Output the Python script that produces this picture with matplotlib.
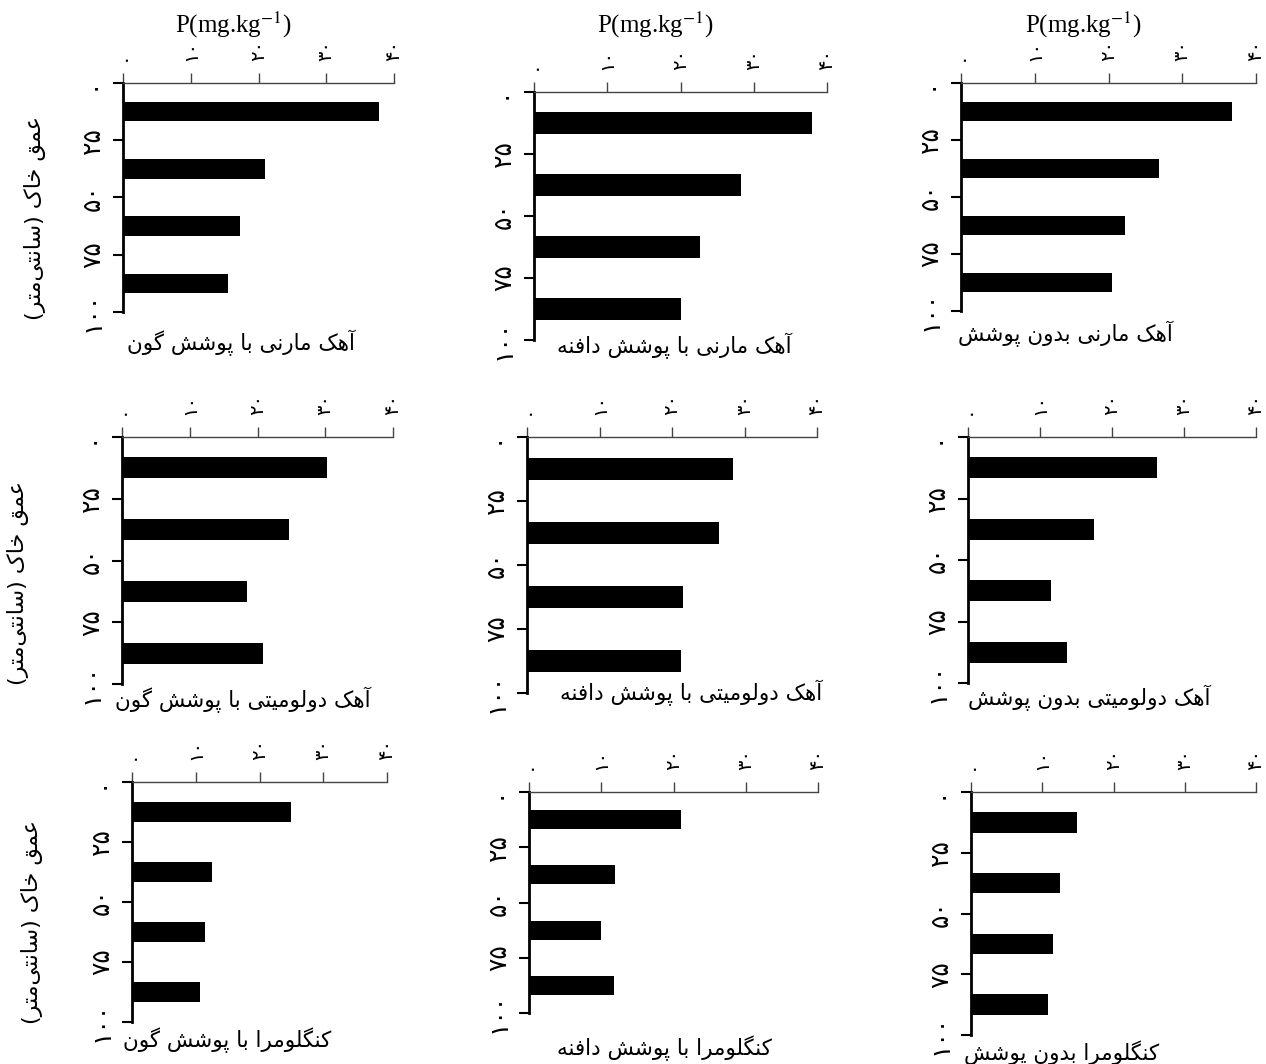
import matplotlib
matplotlib.use("Agg")
import matplotlib.pyplot as plt

plt.rcParams['font.family'] = ['DejaVu Sans']
plt.rcParams['mathtext.fontset'] = 'stix'

# depth classes (cm) and P scale
depth_ticks = [0, 25, 50, 75, 100]
depth_mid = [12.5, 37.5, 62.5, 87.5]
p_ticks = [0, 10, 20, 30, 40]

# P (mg/kg) per depth class
marl_gon = [37.8, 21.0, 17.3, 15.5]
marl_daphne = [38.0, 28.2, 22.6, 20.1]
marl_bare = [36.8, 26.8, 22.2, 20.5]
dolo_gon = [30.2, 24.7, 18.5, 20.8]
dolo_daphne = [28.4, 26.5, 21.5, 21.3]
dolo_bare = [26.2, 17.5, 11.5, 13.7]
cong_gon = [24.9, 12.5, 11.5, 10.7]
cong_daphne = [21.1, 11.9, 10.0, 11.8]
cong_bare = [14.9, 12.5, 11.5, 10.8]

captions = [
    ["آهک مارنی با پوشش گون", "آهک مارنی با پوشش دافنه", "آهک مارنی بدون پوشش"],
    ["آهک دولومیتی با پوشش گون", "آهک دولومیتی با پوشش دافنه", "آهک دولومیتی بدون پوشش"],
    ["کنگلومرا با پوشش گون", "کنگلومرا با پوشش دافنه", "کنگلومرا بدون پوشش"],
]
values = [
    [marl_gon, marl_daphne, marl_bare],
    [dolo_gon, dolo_daphne, dolo_bare],
    [cong_gon, cong_daphne, cong_bare],
]
ylabel_text = "عمق خاک (سانتی\u200cمتر)"
xlabel_text = r"P(mg.kg$^{-1}$)"

# isolated, final, initial, medial presentation forms
FORMS = {
    'ا': ('\uFE8D', '\uFE8E', None, None),
    'آ': ('\uFE81', '\uFE82', None, None),
    'د': ('\uFEA9', '\uFEAA', None, None),
    'ر': ('\uFEAD', '\uFEAE', None, None),
    'و': ('\uFEED', '\uFEEE', None, None),
    'ب': ('\uFE8F', '\uFE90', '\uFE91', '\uFE92'),
    'پ': ('\uFB56', '\uFB57', '\uFB58', '\uFB59'),
    'ت': ('\uFE95', '\uFE96', '\uFE97', '\uFE98'),
    'خ': ('\uFEA5', '\uFEA6', '\uFEA7', '\uFEA8'),
    'س': ('\uFEB1', '\uFEB2', '\uFEB3', '\uFEB4'),
    'ش': ('\uFEB5', '\uFEB6', '\uFEB7', '\uFEB8'),
    'ع': ('\uFEC9', '\uFECA', '\uFECB', '\uFECC'),
    'ف': ('\uFED1', '\uFED2', '\uFED3', '\uFED4'),
    'ق': ('\uFED5', '\uFED6', '\uFED7', '\uFED8'),
    'ل': ('\uFEDD', '\uFEDE', '\uFEDF', '\uFEE0'),
    'م': ('\uFEE1', '\uFEE2', '\uFEE3', '\uFEE4'),
    'ن': ('\uFEE5', '\uFEE6', '\uFEE7', '\uFEE8'),
    'ه': ('\uFEE9', '\uFEEA', '\uFEEB', '\uFEEC'),
    'ک': ('\uFB8E', '\uFB8F', '\uFB90', '\uFB91'),
    'گ': ('\uFB92', '\uFB93', '\uFB94', '\uFB95'),
    'ی': ('\uFBFC', '\uFBFD', '\uFBFE', '\uFBFF'),
}


def fa(text):
    # poor man's reshaping + right-to-left ordering
    out = []
    for i, ch in enumerate(text):
        if ch not in FORMS:
            if ch != '\u200c':
                out.append(ch)
            continue
        prev = text[i - 1] if i > 0 else None
        nxt = text[i + 1] if i < len(text) - 1 else None
        join_prev = prev in FORMS and FORMS[prev][2] is not None
        join_next = nxt in FORMS and FORMS[ch][2] is not None
        isol, fina, init, medi = FORMS[ch]
        if join_prev and join_next:
            out.append(medi)
        elif join_prev:
            out.append(fina)
        elif join_next:
            out.append(init)
        else:
            out.append(isol)
    s = ''.join(reversed(out))
    return s.translate(str.maketrans('()', ')('))


def fa_num(n):
    return str(n).translate(str.maketrans('0123456789', '۰۱۲۳۴۵۶۷۸۹'))


W, H = 1266, 1064
fig = plt.figure(figsize=(W / 100, H / 100), dpi=100)

# axes boxes in pixels: x0, x1, ytop, ybottom
boxes = [
    [(123, 394, 83, 312), (534, 827, 92, 340), (961, 1256, 83, 311)],
    [(122, 393, 437, 684), (527, 817, 437, 693), (968, 1256, 437, 683)],
    [(132, 387, 782, 1022), (529, 818, 792, 1013), (971, 1256, 792, 1035)],
]
caption_pos = [
    [(241, 343), (674, 346), (1065, 334)],
    [(243, 700), (691, 693), (1089, 698)],
    [(227, 1040), (664, 1048), (1062, 1053)],
]
ylabel_pos = [(35, 218), (18, 583), (32, 922)]

for r in range(3):
    for c in range(3):
        x0, x1, yt, yb = boxes[r][c]
        ax = fig.add_axes([x0 / W, 1 - yb / H, (x1 - x0) / W, (yb - yt) / H])
        ax.barh(depth_mid, values[r][c], height=8.5, color='black')
        ax.set_xlim(0, 40)
        ax.set_ylim(100, 0)
        ax.xaxis.tick_top()
        ax.set_xticks(p_ticks)
        ax.set_xticklabels([fa_num(v) for v in p_ticks], rotation=90,
                           va='bottom', ha='center', fontsize=14)
        ax.set_yticks(depth_ticks)
        ax.set_yticklabels([fa_num(v) for v in depth_ticks], rotation=90,
                           va='center', ha='right', fontsize=18)
        ax.spines['right'].set_visible(False)
        ax.spines['bottom'].set_visible(False)
        ax.spines['left'].set_linewidth(2)
        ax.spines['top'].set_linewidth(1)
        ax.spines['top'].set_color('#444444')
        ax.tick_params(axis='x', direction='out', length=7, width=1,
                       color='#444444', pad=9)
        ax.tick_params(axis='y', direction='out', length=7, width=1.5, pad=6)

        cx, cy = caption_pos[r][c]
        fig.text(cx / W, 1 - cy / H, fa(captions[r][c]), ha='center',
                 va='center', fontsize=15.5)

        if r == 0:
            fig.text(((x0 + x1) / 2 - 25) / W, 1 - 25 / H, xlabel_text,
                     ha='center', va='center', fontsize=18,
                     family='Liberation Serif')

for (lx, ly) in ylabel_pos:
    fig.text(lx / W, 1 - ly / H, fa(ylabel_text), rotation=90,
             ha='center', va='center', fontsize=16)

fig.savefig('out.png', dpi=100)
